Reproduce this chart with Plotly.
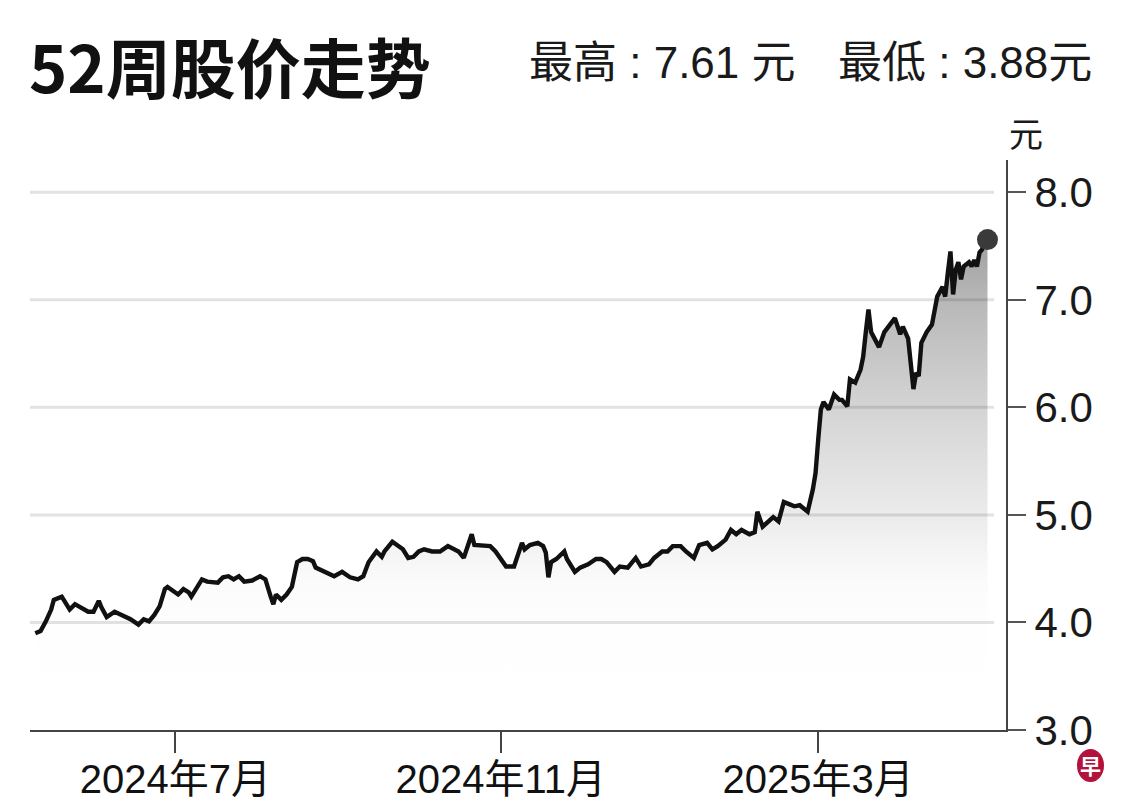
import plotly.graph_objects as go

# ---------------- data ----------------
dates = [
    "2024-05-09", "2024-05-11", "2024-05-13", "2024-05-15", "2024-05-16", "2024-05-18", "2024-05-19",
    "2024-05-20", "2024-05-22", "2024-05-24", "2024-05-26", "2024-05-29", "2024-05-31", "2024-06-02",
    "2024-06-03", "2024-06-05", "2024-06-08", "2024-06-09", "2024-06-12", "2024-06-14", "2024-06-17",
    "2024-06-19", "2024-06-21", "2024-06-23", "2024-06-25", "2024-06-27", "2024-06-28", "2024-06-30",
    "2024-07-02", "2024-07-04", "2024-07-06", "2024-07-07", "2024-07-09", "2024-07-11", "2024-07-13",
    "2024-07-17", "2024-07-19", "2024-07-21", "2024-07-23", "2024-07-25", "2024-07-27", "2024-07-30",
    "2024-08-02", "2024-08-04", "2024-08-06", "2024-08-07", "2024-08-08", "2024-08-10", "2024-08-12",
    "2024-08-14", "2024-08-16", "2024-08-18", "2024-08-20", "2024-08-22", "2024-08-23", "2024-08-25",
    "2024-08-27", "2024-08-30", "2024-09-02", "2024-09-05", "2024-09-08", "2024-09-10", "2024-09-12",
    "2024-09-15", "2024-09-17", "2024-09-18", "2024-09-21", "2024-09-23", "2024-09-25", "2024-09-27",
    "2024-09-29", "2024-10-01", "2024-10-03", "2024-10-06", "2024-10-09", "2024-10-12", "2024-10-14",
    "2024-10-16", "2024-10-18", "2024-10-20", "2024-10-21", "2024-10-22", "2024-10-25", "2024-10-28",
    "2024-10-30", "2024-11-01", "2024-11-03", "2024-11-06", "2024-11-08", "2024-11-09", "2024-11-10",
    "2024-11-12", "2024-11-15", "2024-11-17", "2024-11-18", "2024-11-19", "2024-11-20", "2024-11-22",
    "2024-11-25", "2024-11-26", "2024-11-29", "2024-12-01", "2024-12-04", "2024-12-07", "2024-12-09",
    "2024-12-11", "2024-12-14", "2024-12-16", "2024-12-19", "2024-12-22", "2024-12-24", "2024-12-27",
    "2024-12-29", "2025-01-01", "2025-01-03", "2025-01-05", "2025-01-08", "2025-01-10", "2025-01-13",
    "2025-01-15", "2025-01-18", "2025-01-20", "2025-01-22", "2025-01-25", "2025-01-27", "2025-01-29",
    "2025-01-31", "2025-02-03", "2025-02-05", "2025-02-06", "2025-02-08", "2025-02-10", "2025-02-12",
    "2025-02-14", "2025-02-16", "2025-02-18", "2025-02-20", "2025-02-22", "2025-02-25", "2025-02-27",
    "2025-02-28", "2025-03-01", "2025-03-02", "2025-03-03", "2025-03-05", "2025-03-07", "2025-03-09",
    "2025-03-10", "2025-03-12", "2025-03-13", "2025-03-15", "2025-03-17", "2025-03-18", "2025-03-19",
    "2025-03-20", "2025-03-21", "2025-03-23", "2025-03-24", "2025-03-26", "2025-03-28", "2025-03-30",
    "2025-04-01", "2025-04-02", "2025-04-04", "2025-04-05", "2025-04-06", "2025-04-07", "2025-04-08",
    "2025-04-09", "2025-04-11", "2025-04-13", "2025-04-14", "2025-04-15", "2025-04-17", "2025-04-18",
    "2025-04-19", "2025-04-20", "2025-04-21", "2025-04-22", "2025-04-23", "2025-04-24", "2025-04-25",
    "2025-04-27", "2025-04-28", "2025-04-29", "2025-04-30", "2025-05-01", "2025-05-02", "2025-05-03",
    "2025-05-04",
]

prices = [
    3.90, 3.92, 4.01, 4.12, 4.21, 4.23, 4.24,
    4.20, 4.12, 4.17, 4.14, 4.10, 4.10, 4.20,
    4.14, 4.05, 4.10, 4.09, 4.05, 4.03, 3.98,
    4.03, 4.01, 4.07, 4.15, 4.31, 4.33, 4.29,
    4.26, 4.31, 4.28, 4.24, 4.33, 4.40, 4.38,
    4.37, 4.42, 4.43, 4.40, 4.43, 4.38, 4.39,
    4.43, 4.40, 4.24, 4.17, 4.26, 4.21, 4.26,
    4.33, 4.56, 4.59, 4.59, 4.57, 4.51, 4.49,
    4.47, 4.43, 4.47, 4.42, 4.40, 4.43, 4.56,
    4.66, 4.61, 4.66, 4.75, 4.72, 4.68, 4.60,
    4.61, 4.66, 4.68, 4.66, 4.66, 4.71, 4.68,
    4.66, 4.60, 4.74, 4.82, 4.72, 4.71, 4.71,
    4.66, 4.59, 4.52, 4.52, 4.65, 4.74, 4.68,
    4.72, 4.74, 4.71, 4.65, 4.42, 4.56, 4.59,
    4.66, 4.59, 4.47, 4.51, 4.54, 4.59, 4.59,
    4.56, 4.47, 4.52, 4.51, 4.60, 4.52, 4.54,
    4.60, 4.66, 4.66, 4.71, 4.71, 4.66, 4.60,
    4.72, 4.74, 4.68, 4.71, 4.77, 4.86, 4.82,
    4.86, 4.82, 4.84, 5.03, 4.89, 4.94, 4.98,
    4.94, 5.12, 5.10, 5.08, 5.09, 5.03, 5.24,
    5.39, 5.70, 5.98, 6.05, 5.98, 6.12, 6.07,
    6.07, 6.01, 6.26, 6.23, 6.35, 6.47, 6.70,
    6.91, 6.70, 6.60, 6.56, 6.70, 6.77, 6.83,
    6.68, 6.75, 6.64, 6.40, 6.17, 6.32, 6.29,
    6.60, 6.70, 6.77, 6.88, 7.03, 7.12, 7.03,
    7.25, 7.45, 7.05, 7.28, 7.35, 7.19, 7.31,
    7.35, 7.31, 7.37, 7.31, 7.44, 7.47, 7.61,
    7.56,
]

x_tick_vals = ["2024-07-01", "2024-11-01", "2025-03-01"]
x_tick_text = ["2024年7月", "2024年11月", "2025年3月"]
y_tick_vals = [3, 4, 5, 6, 7, 8]
y_tick_text = ["3.0", "4.0", "5.0", "6.0", "7.0", "8.0"]

title_text = "52周股价走势"
high_text = "最高 : 7.61 元"
low_text = "最低 : 3.88元"
unit_text = "元"

# ---------------- layout geometry ----------------
# The page body has an 8px margin, so the figure starts at (8, 8) in the window.
OFF = 8
W, H = 1140 - 2 * OFF, 812 - 2 * OFF
PLOT_L, PLOT_R, PLOT_T, PLOT_B = 30, 1006, 160, 730   # window pixels
ML = PLOT_L - OFF
MT = PLOT_T - OFF
MR = (W + OFF) - PLOT_R
MB = (H + OFF) - PLOT_B


def px(xp):
    return (xp - PLOT_L) / (PLOT_R - PLOT_L)


def py(yp):
    return (PLOT_B - yp) / (PLOT_B - PLOT_T)


fig = go.Figure()

fig.add_trace(go.Scatter(
    x=dates, y=prices, mode="lines",
    line=dict(color="#111111", width=4.4),
    fill="tozeroy",
    fillgradient=dict(
        type="vertical",
        start=3.0, stop=7.7,
        colorscale=[
            [0.0, "rgba(0,0,0,0)"],
            [0.21, "rgba(0,0,0,0.004)"],
            [0.30, "rgba(0,0,0,0.018)"],
            [0.43, "rgba(0,0,0,0.08)"],
            [0.64, "rgba(0,0,0,0.17)"],
            [0.85, "rgba(0,0,0,0.28)"],
            [1.0, "rgba(0,0,0,0.40)"],
        ],
    ),
    hoverinfo="skip",
    showlegend=False,
))

fig.add_trace(go.Scatter(
    x=[dates[-1]], y=[prices[-1]], mode="markers",
    marker=dict(color="#3a3a3a", size=21),
    hoverinfo="skip", showlegend=False,
))

shapes = []
for v in y_tick_vals[1:]:
    shapes.append(dict(
        type="line", xref="paper", yref="y",
        x0=0, x1=px(994), y0=v, y1=v,
        line=dict(color="#e2e2e2", width=3), layer="below",
    ))
# logo
shapes.append(dict(
    type="circle", xref="paper", yref="paper",
    x0=px(1077), x1=px(1104), y0=py(782), y1=py(749),
    fillcolor="#b3123c", line=dict(width=0),
))

annotations = [
    dict(text="<b>" + title_text + "</b>", xref="paper", yref="paper",
         x=px(27), y=py(65), xanchor="left", yanchor="middle", showarrow=False,
         font=dict(family="Noto Sans CJK SC", size=65, color="#111111")),
    dict(text=high_text, xref="paper", yref="paper",
         x=px(527), y=py(63), xanchor="left", yanchor="middle", showarrow=False,
         font=dict(family="Liberation Sans, Noto Sans CJK SC", size=44, color="#1a1a1a")),
    dict(text=low_text, xref="paper", yref="paper",
         x=px(1094), y=py(63), xanchor="right", yanchor="middle", showarrow=False,
         font=dict(family="Liberation Sans, Noto Sans CJK SC", size=44, color="#1a1a1a")),
    dict(text=unit_text, xref="paper", yref="paper",
         x=px(1026), y=py(132), xanchor="center", yanchor="middle", showarrow=False,
         font=dict(family="Noto Sans CJK SC", size=34, color="#1a1a1a")),
    dict(text="<b>早</b>", xref="paper", yref="paper",
         x=px(1090.5), y=py(765), xanchor="center", yanchor="middle", showarrow=False,
         font=dict(family="Noto Sans CJK SC", size=21, color="#ffffff")),
]

fig.update_layout(
    width=W, height=H,
    margin=dict(l=ML, r=MR, t=MT, b=MB, pad=0, autoexpand=False),
    paper_bgcolor="white", plot_bgcolor="white",
    shapes=shapes, annotations=annotations,
    xaxis=dict(
        type="date", range=["2024-05-07", "2025-05-11"],
        tickmode="array", tickvals=x_tick_vals, ticktext=x_tick_text,
        ticks="outside", ticklen=21, tickwidth=1.5, tickcolor="#444444",
        showline=True, linecolor="#444444", linewidth=2,
        showgrid=False, zeroline=False, automargin=False,
        ticklabelstandoff=-8,
        tickfont=dict(family="Liberation Sans Narrow, Liberation Sans, Noto Sans CJK SC",
                      size=40, color="#111111"),
    ),
    yaxis=dict(
        side="right", range=[3.0, 8.3],
        tickmode="array", tickvals=y_tick_vals, ticktext=y_tick_text,
        ticks="outside", ticklen=18, tickwidth=2, tickcolor="#555555",
        showline=True, linecolor="#444444", linewidth=2,
        showgrid=False, zeroline=False, automargin=False,
        tickfont=dict(family="Liberation Sans, Arial", size=42, color="#1a1a1a"),
    ),
)

fig.write_html("out.html")
